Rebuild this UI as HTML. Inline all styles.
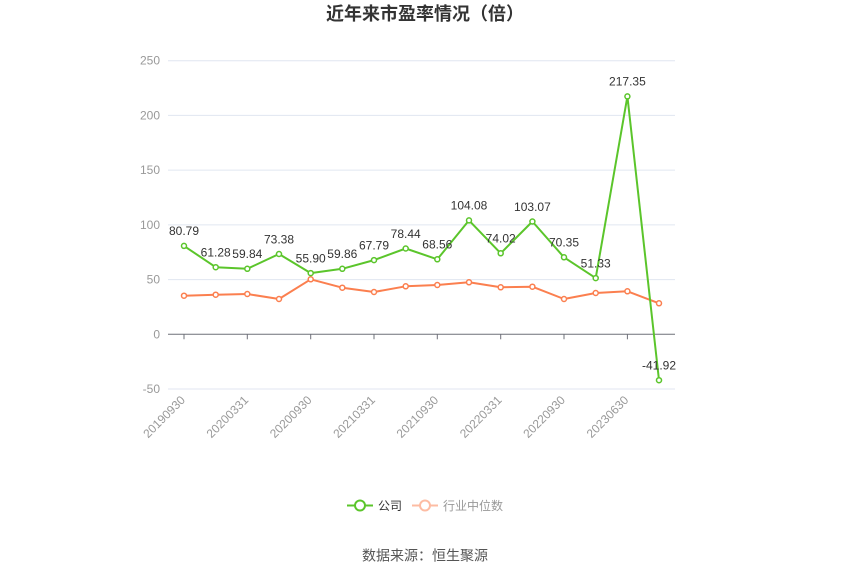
<!DOCTYPE html>
<html><head><meta charset="utf-8"><style>
html,body{margin:0;padding:0;background:#fff;}
svg{display:block;}
text{font-family:"Liberation Sans","Noto Sans CJK SC",sans-serif;}
</style></head><body>
<svg width="850" height="575" viewBox="0 0 850 575" xmlns="http://www.w3.org/2000/svg">
<rect width="850" height="575" fill="#fff"/>
<text x="425" y="20" text-anchor="middle" font-size="18" font-weight="bold" fill="#333">近年来市盈率情况（倍）</text>
<g stroke="#e0e6f1" stroke-width="1">
<line x1="168" y1="60.7" x2="675" y2="60.7"/>
<line x1="168" y1="115.4" x2="675" y2="115.4"/>
<line x1="168" y1="170.1" x2="675" y2="170.1"/>
<line x1="168" y1="224.9" x2="675" y2="224.9"/>
<line x1="168" y1="279.6" x2="675" y2="279.6"/>
<line x1="168" y1="389.0" x2="675" y2="389.0"/>
</g>
<g font-size="12" fill="#999" text-anchor="end">
<text x="160" y="64.7">250</text>
<text x="160" y="119.4">200</text>
<text x="160" y="174.1">150</text>
<text x="160" y="228.9">100</text>
<text x="160" y="283.6">50</text>
<text x="160" y="338.3">0</text>
<text x="160" y="393.0">-50</text>
</g>
<line x1="168" y1="334.3" x2="675" y2="334.3" stroke="#6e7079" stroke-width="1"/>
<g stroke="#6e7079" stroke-width="1">
<line x1="184" y1="334.3" x2="184" y2="339.3"/>
<line x1="247.3" y1="334.3" x2="247.3" y2="339.3"/>
<line x1="310.7" y1="334.3" x2="310.7" y2="339.3"/>
<line x1="374" y1="334.3" x2="374" y2="339.3"/>
<line x1="437.3" y1="334.3" x2="437.3" y2="339.3"/>
<line x1="500.7" y1="334.3" x2="500.7" y2="339.3"/>
<line x1="564" y1="334.3" x2="564" y2="339.3"/>
<line x1="627.4" y1="334.3" x2="627.4" y2="339.3"/>
</g>
<g font-size="12" fill="#999" text-anchor="end">
<text transform="translate(183,398) rotate(-45)" dy="4">20190930</text>
<text transform="translate(246.3,398) rotate(-45)" dy="4">20200331</text>
<text transform="translate(309.7,398) rotate(-45)" dy="4">20200930</text>
<text transform="translate(373,398) rotate(-45)" dy="4">20210331</text>
<text transform="translate(436.3,398) rotate(-45)" dy="4">20210930</text>
<text transform="translate(499.7,398) rotate(-45)" dy="4">20220331</text>
<text transform="translate(563,398) rotate(-45)" dy="4">20220930</text>
<text transform="translate(626.4,398) rotate(-45)" dy="4">20230630</text>
</g>
<polyline fill="none" stroke="#fb7f4f" stroke-width="2" stroke-linejoin="round" points="184,295.7 215.7,294.7 247.3,294 279,299 310.7,279.3 342.3,287.7 374,292 405.7,286.3 437.3,285 469,282.3 500.7,287.3 532.4,286.7 564,299 595.7,293 627.4,291.3 659,303.3"/>
<g fill="#fff" stroke="#fb7f4f" stroke-width="1.5">
<circle cx="184" cy="295.7" r="2.5"/><circle cx="215.7" cy="294.7" r="2.5"/><circle cx="247.3" cy="294" r="2.5"/><circle cx="279" cy="299" r="2.5"/><circle cx="310.7" cy="279.3" r="2.5"/><circle cx="342.3" cy="287.7" r="2.5"/><circle cx="374" cy="292" r="2.5"/><circle cx="405.7" cy="286.3" r="2.5"/><circle cx="437.3" cy="285" r="2.5"/><circle cx="469" cy="282.3" r="2.5"/><circle cx="500.7" cy="287.3" r="2.5"/><circle cx="532.4" cy="286.7" r="2.5"/><circle cx="564" cy="299" r="2.5"/><circle cx="595.7" cy="293" r="2.5"/><circle cx="627.4" cy="291.3" r="2.5"/><circle cx="659" cy="303.3" r="2.5"/>
</g>
<polyline fill="none" stroke="#5bc52b" stroke-width="2" stroke-linejoin="round" points="184,245.9 215.7,267.2 247.3,268.8 279,254 310.7,273.1 342.3,268.8 374,260.1 405.7,248.5 437.3,259.3 469,220.4 500.7,253.3 532.4,221.5 564,257.3 595.7,278.1 627.4,96.4 659,380.2"/>
<g fill="#fff" stroke="#5bc52b" stroke-width="1.5">
<circle cx="184" cy="245.9" r="2.5"/><circle cx="215.7" cy="267.2" r="2.5"/><circle cx="247.3" cy="268.8" r="2.5"/><circle cx="279" cy="254" r="2.5"/><circle cx="310.7" cy="273.1" r="2.5"/><circle cx="342.3" cy="268.8" r="2.5"/><circle cx="374" cy="260.1" r="2.5"/><circle cx="405.7" cy="248.5" r="2.5"/><circle cx="437.3" cy="259.3" r="2.5"/><circle cx="469" cy="220.4" r="2.5"/><circle cx="500.7" cy="253.3" r="2.5"/><circle cx="532.4" cy="221.5" r="2.5"/><circle cx="564" cy="257.3" r="2.5"/><circle cx="595.7" cy="278.1" r="2.5"/><circle cx="627.4" cy="96.4" r="2.5"/><circle cx="659" cy="380.2" r="2.5"/>
</g>
<g font-size="12" fill="#333" text-anchor="middle">
<text x="184" y="235.2">80.79</text>
<text x="215.7" y="256.5">61.28</text>
<text x="247.3" y="258.1">59.84</text>
<text x="279" y="243.3">73.38</text>
<text x="310.7" y="262.4">55.90</text>
<text x="342.3" y="258.1">59.86</text>
<text x="374" y="249.4">67.79</text>
<text x="405.7" y="237.8">78.44</text>
<text x="437.3" y="248.6">68.56</text>
<text x="469" y="209.7">104.08</text>
<text x="500.7" y="242.6">74.02</text>
<text x="532.4" y="210.8">103.07</text>
<text x="564" y="246.6">70.35</text>
<text x="595.7" y="267.4">51.33</text>
<text x="627.4" y="85.7">217.35</text>
<text x="659" y="369.5">-41.92</text>
</g>
<line x1="347" y1="505.5" x2="373" y2="505.5" stroke="#5bc52b" stroke-width="2"/>
<circle cx="360" cy="505.5" r="5" fill="#fff" stroke="#5bc52b" stroke-width="2"/>
<text x="378" y="510" font-size="12" fill="#333">公司</text>
<line x1="412" y1="505.5" x2="438" y2="505.5" stroke="#fdbca3" stroke-width="2"/>
<circle cx="425" cy="505.5" r="5" fill="#fff" stroke="#fdbca3" stroke-width="2"/>
<text x="443" y="510" font-size="12" fill="#999">行业中位数</text>
<text x="425" y="560.5" text-anchor="middle" font-size="14" fill="#555">数据来源：恒生聚源</text>
</svg>
</body></html>
